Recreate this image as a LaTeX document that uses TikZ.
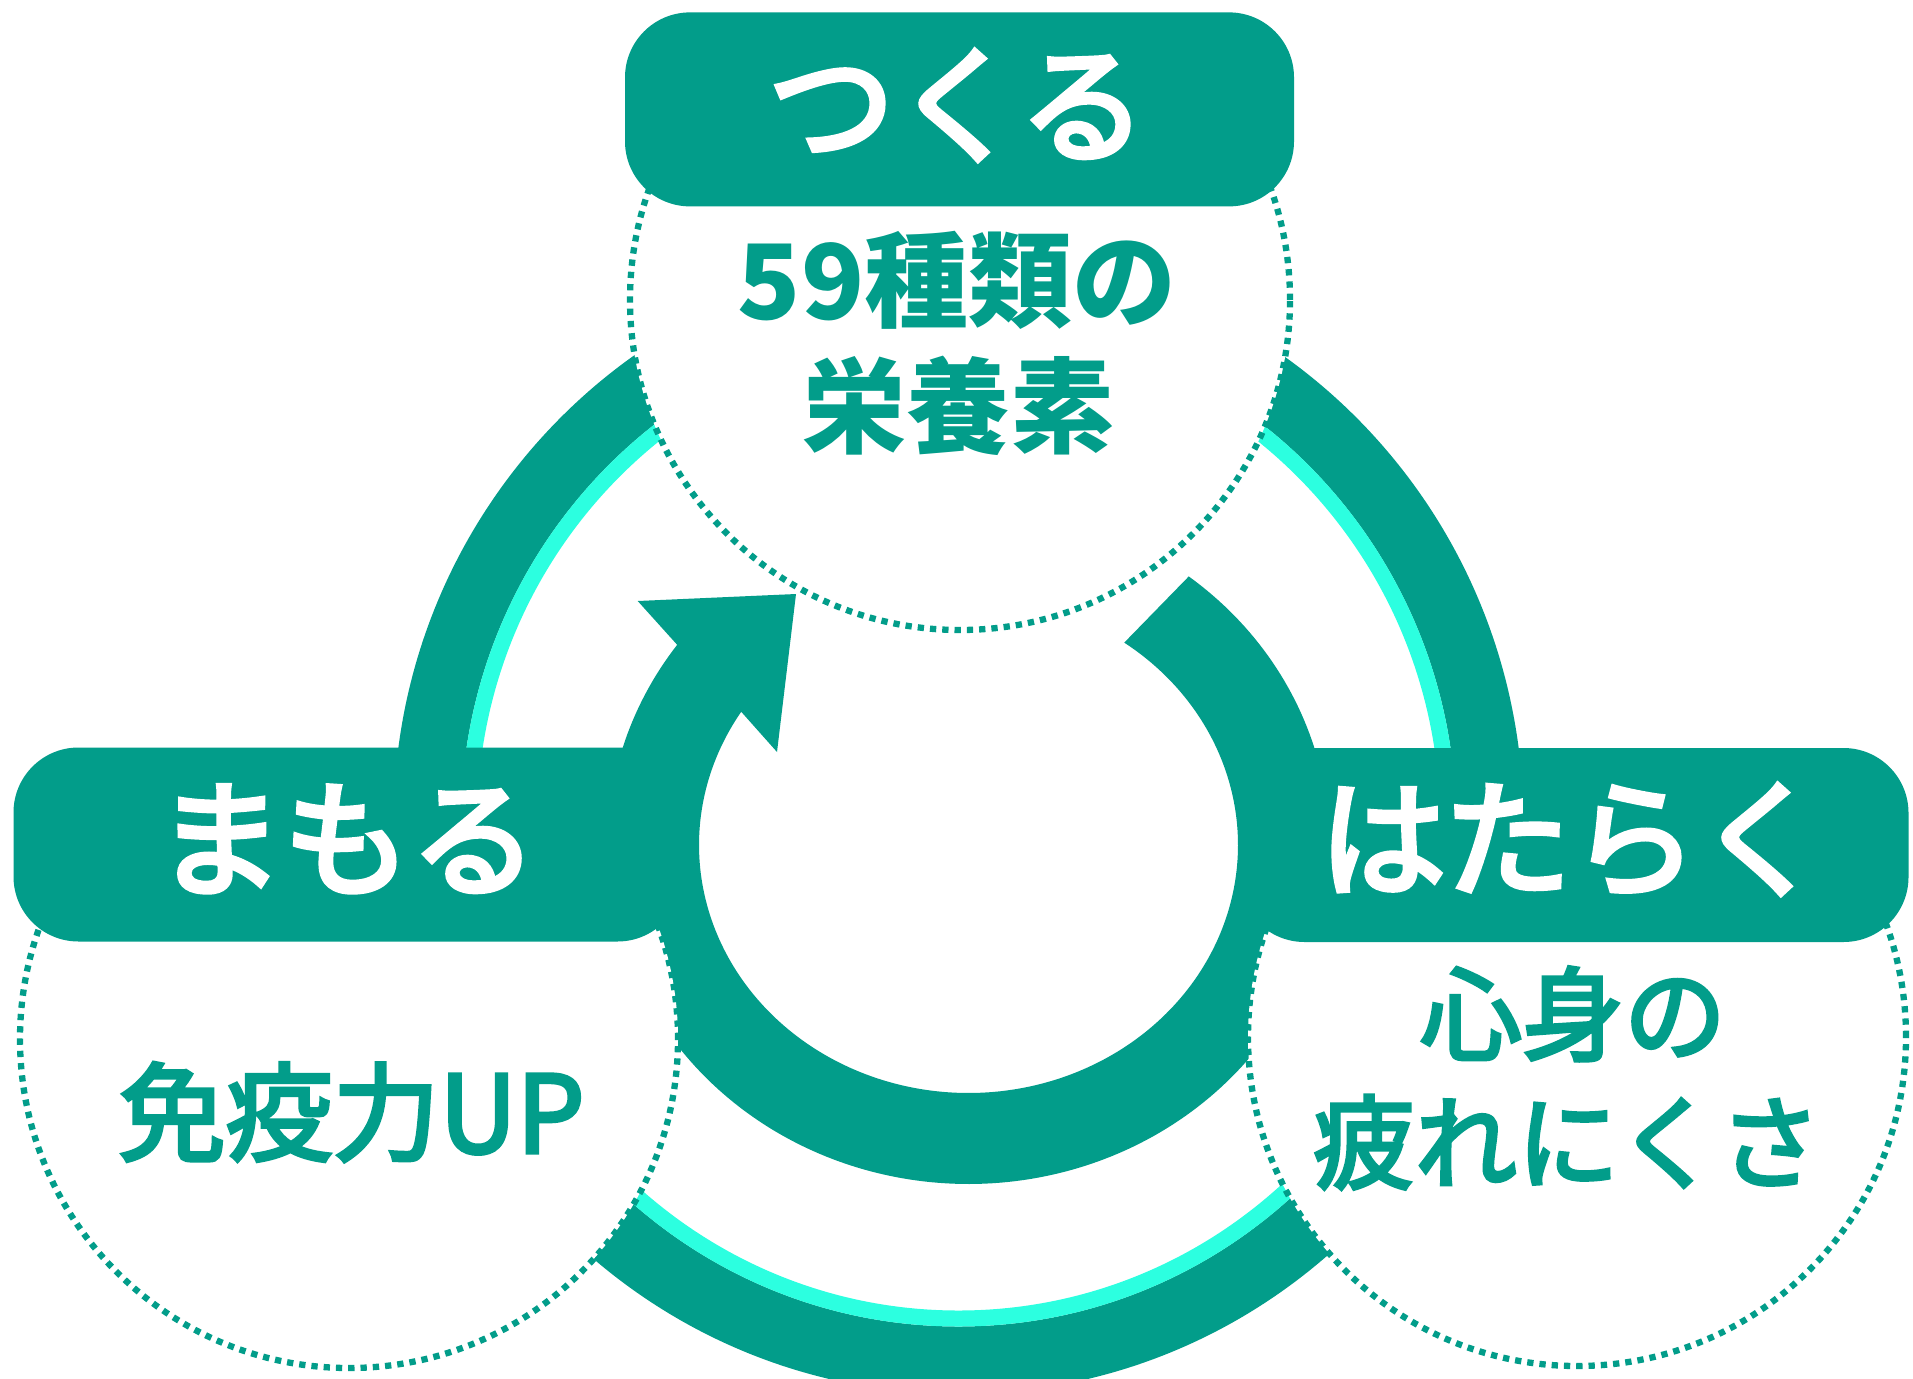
\documentclass[tikz,border=0pt]{standalone}
\usepackage{fontspec}
\newfontfamily\jp{Noto Sans CJK JP}
\newfontfamily\jpm{Noto Sans CJK JP}[FakeBold=4]
\newfontfamily\jpn{Noto Sans CJK JP}[FakeBold=3.5]
\definecolor{teal1}{HTML}{029D8A}
\definecolor{aqua1}{HTML}{2CFFE0}
\begin{document}
\begin{tikzpicture}[x=1pt,y=-1pt,
  labelbox/.style={rectangle, fill=teal1, rounded corners=65pt, minimum width=669pt, minimum height=194pt, inner sep=0pt},
  dotcirc/.style={circle, fill=white, draw=teal1, line width=6.3pt, dash pattern=on 6.3pt off 6pt, minimum size=#1, inner sep=0pt},
  lbl/.style={text=white, inner sep=0pt, font=\jpm\fontsize{127}{127}\selectfont, text height=111.8pt, text depth=15.2pt},
  bigtxt/.style={text=teal1, inner sep=0pt, font=\jp\bfseries\fontsize{104}{104}\selectfont, text height=91.5pt, text depth=12.5pt},
  midtxt/.style={text=teal1, inner sep=0pt, font=\jpn\fontsize{#1}{#1}\selectfont, text height=0.88*#1 pt, text depth=0.12*#1 pt}
]
\fill[white] (0,0) rectangle (1913,1378);
\useasboundingbox (0,0) rectangle (1913,1378);
% outer ring
\draw[teal1, line width=67.5pt] (958.5,823) ellipse[x radius=531.25, y radius=537.25];
\draw[aqua1, line width=16pt] (958.5,823) ellipse[x radius=489.5, y radius=495.5];
% inner arrow
\fill[teal1] plot[domain=-52.4:216.2, samples=220, variable=\t] ({968.5+361*cos(\t)},{845+339*sin(\t)})
  -- (637.7,601) -- (796,594) -- (777,752)
  -- plot[domain=212.5:-54.7, samples=220, variable=\t] ({968.5+269.5*cos(\t)},{845+248*sin(\t)}) -- cycle;
% dotted circles, clipped below their label boxes
\begin{scope}
  \clip (0,20) rectangle (1913,1378);
  \node[dotcirc=660pt] (topc) at (960,300) {};
\end{scope}
\begin{scope}
  \clip (0,754) rectangle (1913,1378);
  \node[dotcirc=658pt] (leftc) at (349,1039) {};
  \node[dotcirc=658pt] (rightc) at (1577,1037) {};
\end{scope}
% label boxes
\node[labelbox] (topbox) at (959.5,109.4) {};
\node[labelbox] (leftbox) at (348,844.5) {};
\node[labelbox] (rightbox) at (1574,845) {};
% labels
\node[lbl] (tsukuru) at (957,104) {つくる};
\node[lbl] (mamoru) at (347,838) {まもる};
\node[lbl] (hataraku) at (1572,838) {はたらく};
% contents
\node[bigtxt] (eiyo1) at (957,280) {59種類の};
\node[bigtxt] (eiyo2) at (958,406) {栄養素};
\node[midtxt=107] (meneki) at (351.5,1112) {免疫力UP};
\node[midtxt=102] (shin1) at (1573,1014) {心身の};
\node[midtxt=102] (shin2) at (1567,1142) {疲れにくさ};
\end{tikzpicture}
\end{document}
